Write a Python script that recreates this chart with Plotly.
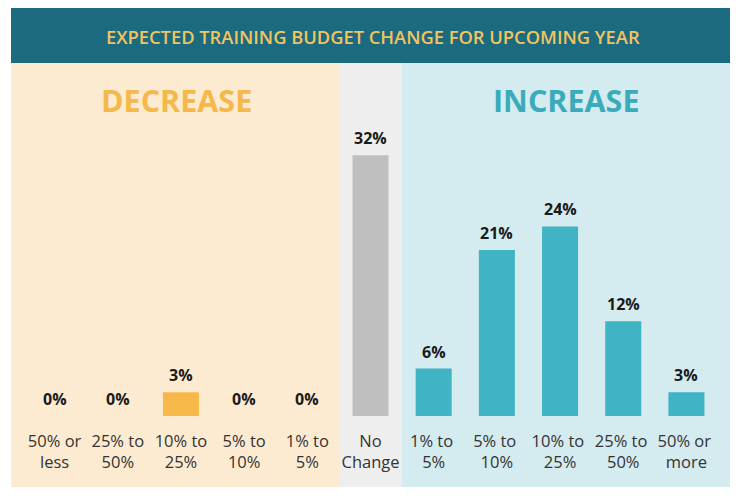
import plotly.graph_objects as go

categories = ["50% or<br>less", "25% to<br>50%", "10% to<br>25%", "5% to<br>10%", "1% to<br>5%",
              "No<br>Change",
              "1% to <br>5%", "5% to <br>10%", "10% to <br>25%", "25% to <br>50%", "50% or <br>more"]
# bar heights (percent)
values = [0, 0, 3, 0, 0, 33, 6, 21, 24, 12, 3]
# value labels as printed in the picture
labels = ["0%", "0%", "3%", "0%", "0%", "32%", "6%", "21%", "24%", "12%", "3%"]
groups = ["dec"] * 5 + ["none"] + ["inc"] * 5

title_text = "EXPECTED TRAINING BUDGET CHANGE FOR UPCOMING YEAR"
dec_text = "DECREASE"
inc_text = "INCREASE"

colors = {"dec": "#f7b84a", "none": "#bfbfbf", "inc": "#40b3c4"}
bar_colors = [colors[g] for g in groups]

# page body has an 8px margin; work in reference-pixel coordinates and shift
OFF = 8
W, H = 746 - 2 * OFF, 500 - 2 * OFF
ML, MT = 23 - OFF, 63 - OFF
MR = W - (718 - OFF)
MB = H - (416 - OFF)
pw = W - ML - MR
ph = H - MT - MB
PX_PER_UNIT = 7.9

def px(x):
    return (x - OFF - ML) / pw

def py(y):
    return (H - MB - (y - OFF)) / ph

fig = go.Figure()
fig.add_trace(go.Bar(
    x=list(range(len(values))), y=values,
    marker=dict(color=bar_colors, line=dict(width=0)),
    cliponaxis=False, hoverinfo="skip",
))

shapes = [
    dict(type="rect", xref="paper", yref="paper", x0=px(11), x1=px(730), y0=py(63), y1=py(7),
         fillcolor="#1b6a80", line=dict(width=0), layer="below"),
    dict(type="rect", xref="paper", yref="paper", x0=px(11), x1=px(340), y0=py(487), y1=py(63),
         fillcolor="#fdebd1", line=dict(width=0), layer="below"),
    dict(type="rect", xref="paper", yref="paper", x0=px(340), x1=px(402), y0=py(487), y1=py(63),
         fillcolor="#efeeef", line=dict(width=0), layer="below"),
    dict(type="rect", xref="paper", yref="paper", x0=px(402), x1=px(730), y0=py(487), y1=py(63),
         fillcolor="#d4ebef", line=dict(width=0), layer="below"),
]

annotations = [
    dict(text=title_text, xref="paper", yref="paper", x=px(373), y=py(36), showarrow=False,
         font=dict(family="Open Sans", size=18.3, color="#f2c45e", weight=600),
         xanchor="center", yanchor="middle"),
    dict(text=dec_text, xref="paper", yref="paper", x=px(176), y=py(100), showarrow=False,
         font=dict(family="Open Sans", size=30.5, color="#f5b84a", weight="bold"),
         xanchor="center", yanchor="middle"),
    dict(text=inc_text, xref="paper", yref="paper", x=px(566), y=py(100), showarrow=False,
         font=dict(family="Open Sans", size=30.5, color="#3aabba", weight="bold"),
         xanchor="center", yanchor="middle"),
]
for i, (v, lab) in enumerate(zip(values, labels)):
    annotations.append(dict(
        text=lab, x=i, y=v, xref="x", yref="y", showarrow=False,
        xanchor="center", yanchor="bottom", yshift=4,
        font=dict(family="Open Sans", size=16, color="#1a1a1a", weight="bold"),
    ))

fig.update_layout(
    width=W, height=H,
    margin=dict(l=ML, r=MR, t=MT, b=MB, pad=0),
    paper_bgcolor="white", plot_bgcolor="rgba(0,0,0,0)",
    bargap=0.43, showlegend=False,
    shapes=shapes, annotations=annotations,
    xaxis=dict(tickmode="array", tickvals=list(range(len(values))), ticktext=categories,
               range=[-0.5, len(values) - 0.5], showgrid=False, zeroline=False, showline=False,
               ticks="outside", ticklen=10, tickcolor="rgba(0,0,0,0)",
               tickfont=dict(family="Open Sans", size=16.5, color="#333333")),
    yaxis=dict(range=[0, ph / PX_PER_UNIT], visible=False, showgrid=False, zeroline=False),
)

fig.write_html("out.html")
